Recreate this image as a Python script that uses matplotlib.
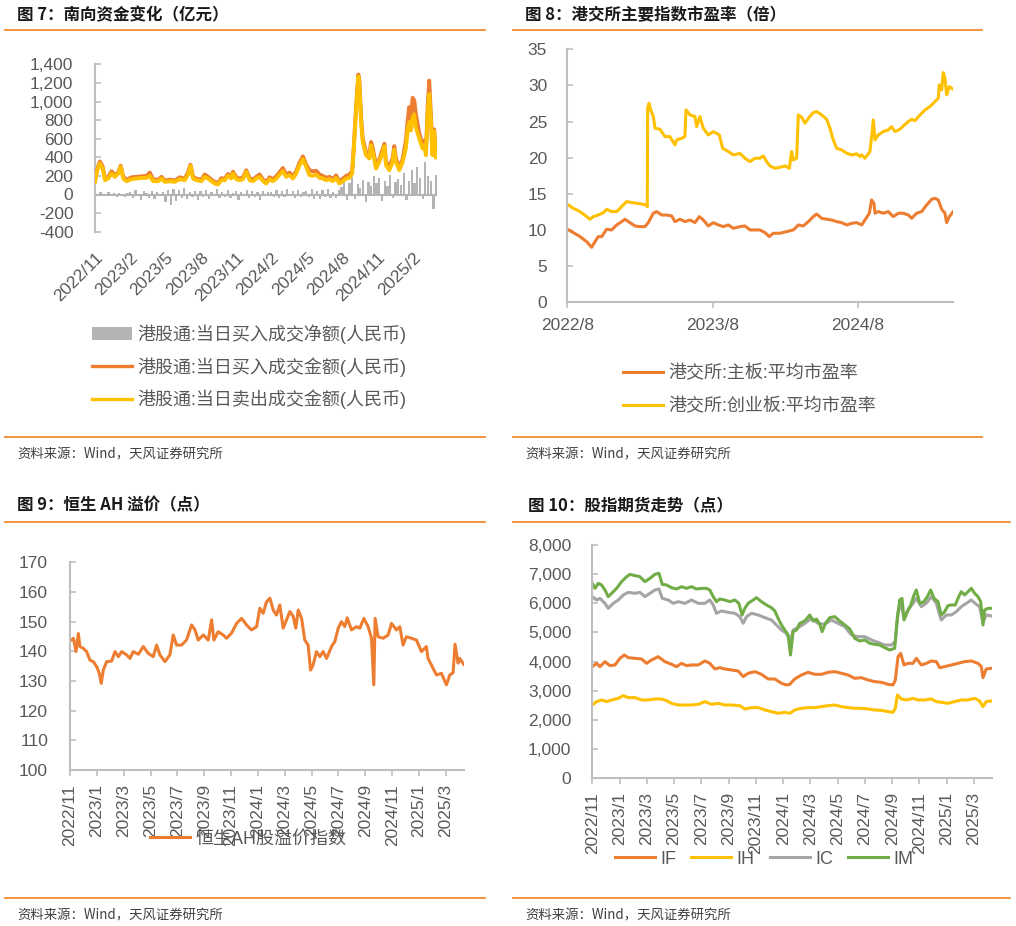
import numpy as np
import matplotlib
matplotlib.use('Agg')
import matplotlib.pyplot as plt
from matplotlib.lines import Line2D
from matplotlib.ticker import FuncFormatter

plt.rcParams['font.family'] = ['Liberation Sans', 'Noto Sans CJK SC', 'DejaVu Sans']

# ---------------- Panel 1 data: 南向资金 (months since 2022/11) ----------------
p1_months = [0.00,0.20,0.42,0.65,0.85,1.13,1.41,1.69,1.98,2.18,
             2.40,2.68,3.11,3.53,3.95,4.38,4.66,4.94,5.37,5.65,
             5.93,6.36,6.78,7.20,7.63,7.91,8.11,8.33,8.62,9.04,
             9.32,9.60,9.89,10.17,10.45,10.73,11.02,11.30,11.58,11.72,
             12.01,12.29,12.57,12.85,13.14,13.42,13.70,13.98,14.27,14.55,
             14.83,15.11,15.40,15.68,15.96,16.24,16.53,16.81,17.09,17.37,
             17.66,17.94,18.22,18.50,18.79,19.07,19.35,19.63,19.92,20.20,
             20.48,20.76,21.05,21.33,21.61,21.84,21.95,22.12,22.26,22.37,
             22.46,22.60,22.74,23.02,23.31,23.45,23.59,23.87,24.15,24.44,
             24.58,24.72,25.00,25.28,25.42,25.56,25.85,26.13,26.41,26.55,
             26.69,26.84,26.98,27.12,27.26,27.54,27.82,27.97,28.11,28.25,
             28.39,28.53,28.67,28.81,28.95]
sell_amt = [136,262,333,280,154,172,226,190,226,297,
            172,143,165,172,179,179,201,143,143,172,
            136,143,136,165,154,215,308,172,154,143,
            190,172,143,118,108,154,154,201,172,226,
            165,154,165,244,154,143,172,190,143,118,
            165,143,172,215,251,190,208,172,226,315,
            380,297,208,201,215,179,172,154,165,143,
            179,118,143,172,179,226,423,781,1068,1270,
            1175,781,566,423,387,530,459,280,351,459,
            520,315,262,351,480,351,262,351,500,680,
            780,690,830,860,720,602,495,530,423,853,
            1080,781,423,680,400]
buy_amt = [150,280,355,300,170,190,250,205,240,310,
           190,160,185,190,195,200,236,160,160,190,
           150,160,150,185,170,240,320,190,170,160,
           215,190,160,135,125,175,170,220,190,245,
           185,170,185,260,175,160,190,215,160,135,
           185,165,195,240,285,215,235,195,250,340,
           410,320,260,250,255,215,200,180,190,165,
           205,140,170,200,215,250,450,820,1100,1290,
           1220,830,600,460,420,565,500,310,380,490,
           545,350,300,390,520,390,290,380,580,780,
           940,820,1040,1010,860,660,540,580,460,920,
           1225,860,460,700,420]
net_amt = [20,-15,30,-20,10,25,-10,15,-25,20,10,-30,15,
           30,-40,45,-20,-60,35,20,-35,40,-50,25,-20,30,
           -80,50,-110,60,-70,45,-40,70,-50,30,-30,40,-60,
           35,-30,50,-45,25,-20,60,-35,30,-25,45,-40,20,
           40,-55,30,-20,50,-40,35,-30,25,-60,40,-20,30,
           30,-25,45,-35,40,-30,55,-20,35,-40,50,-25,30,
           40,-30,60,-45,35,-50,45,-30,55,-40,30,-35,50,
           80,150,-60,120,190,-50,110,70,160,-80,130,90,200,
           120,180,-70,150,90,210,-40,130,170,100,230,-60,140,
           260,120,300,180,-50,350,200,150,-160,210]
net_step = 0.23
p1_ticks = [0, 3, 6, 9, 12, 15, 18, 21, 24, 27]
p1_labels = ['2022/11','2023/2','2023/5','2023/8','2023/11','2024/2','2024/5','2024/8','2024/11','2025/2']
p1_legend = ['港股通:当日买入成交净额(人民币)', '港股通:当日买入成交金额(人民币)', '港股通:当日卖出成交金额(人民币)']

# ---------------- Panel 2 data: 市盈率 (months since 2022/8) ----------------
gem_months = [0,0.50,1.05,1.60,1.87,2.15,2.56,2.98,3.25,3.66,
              4.08,4.49,4.90,5.32,5.73,6.14,6.50,6.61,6.64,6.75,
              6.89,7.11,7.25,7.66,8.07,8.48,8.90,9.04,9.45,9.72,
              9.81,10.14,10.55,10.69,10.96,11.24,11.65,12.07,12.56,12.84,
              13.31,13.72,14.27,14.68,15.10,15.51,15.92,16.20,16.47,16.75,
              17.16,17.58,17.99,18.35,18.54,18.68,18.95,19.09,19.37,19.64,
              19.92,20.33,20.61,21.02,21.43,21.71,21.98,22.26,22.67,23.09,
              23.50,23.91,24.19,24.33,24.60,25.01,25.15,25.29,25.43,25.70,
              26.12,26.53,26.80,27.08,27.49,27.77,28.18,28.46,28.73,29.15,
              29.56,29.97,30.39,30.66,30.74,30.94,31.07,31.21,31.35,31.57,
              31.90]
gem_pe = [13.56,13.0,12.55,11.85,11.49,11.85,12.08,12.4,12.87,12.55,
          12.55,13.24,13.93,13.79,13.7,13.6,13.47,13.24,26.85,27.54,
          26.61,25.69,24.08,23.94,22.92,22.92,21.77,22.46,22.69,22.92,
          26.61,25.92,25.69,24.31,25.69,24.08,23.15,23.62,23.15,21.31,
          20.85,20.39,20.6,19.93,19.46,19.93,19.93,20.25,19.46,18.87,
          18.54,18.68,18.87,18.54,20.85,19.7,19.93,25.92,25.6,24.77,
          25.46,26.25,26.38,25.92,25.32,24.08,22.46,21.31,21.08,20.62,
          20.39,20.53,20.16,20.39,19.93,20.85,22.92,25.23,22.46,23.15,
          23.62,23.85,24.31,23.62,23.94,24.4,25.0,25.32,25.12,25.92,
          26.61,27.08,27.77,28.23,30.07,29.38,31.78,31.0,28.69,29.84,
          29.47]
main_months = [0,0.50,1.05,1.60,2.01,2.29,2.56,2.84,3.25,3.66,
               4.08,4.49,4.77,5.18,5.59,6.01,6.42,6.69,7.11,7.38,
               7.80,8.21,8.62,8.90,9.31,9.72,10.14,10.55,10.91,11.24,
               11.65,12.07,12.48,12.89,13.31,13.72,14.27,14.68,15.10,15.51,
               15.92,16.34,16.69,17.02,17.58,18.13,18.68,19.09,19.50,19.92,
               20.33,20.61,21.02,21.43,21.85,22.26,22.67,23.09,23.50,23.91,
               24.33,24.60,24.96,25.15,25.34,25.43,25.70,26.12,26.53,26.94,
               27.36,27.77,28.18,28.46,28.87,29.28,29.70,30.11,30.39,30.66,
               30.94,31.21,31.35,31.57,31.90]
main_pe = [10.1,9.64,9.09,8.39,7.61,8.39,9.09,9.09,10.1,10.01,
           10.7,11.16,11.49,11.02,10.56,10.47,10.47,11.02,12.32,12.55,
           12.08,12.08,11.95,11.16,11.49,11.16,11.39,11.02,11.85,11.39,
           10.56,11.02,10.7,10.47,10.7,10.24,10.47,10.56,10.01,10.01,
           10.01,9.64,9.09,9.55,9.55,9.78,10.01,10.7,10.56,11.16,
           11.85,12.22,11.62,11.49,11.39,11.16,11.02,10.7,10.93,11.02,
           10.7,11.39,12.32,14.16,13.7,12.32,12.55,12.32,12.55,11.85,
           12.32,12.32,12.08,11.62,12.32,12.55,13.47,14.25,14.39,14.16,
           12.87,12.32,11.02,11.85,12.55]
p2_ticks = [0, 12, 24]
p2_labels = ['2022/8', '2023/8', '2024/8']
p2_legend = ['港交所:主板:平均市盈率', '港交所:创业板:平均市盈率']

# ---------------- Panel 3 data: 恒生AH溢价 (months since 2022/11) ----------------
ah_months = [0,0.25,0.45,0.62,0.74,0.99,1.24,1.49,1.74,1.99,
             2.18,2.33,2.48,2.73,3.10,3.35,3.60,3.85,4.22,4.47,
             4.71,5.09,5.46,5.83,6.20,6.45,6.70,7.07,7.44,7.69,
             7.94,8.31,8.68,9.06,9.31,9.55,9.93,10.30,10.55,10.72,
             11.04,11.41,11.66,12.03,12.41,12.78,13.15,13.52,13.90,14.14,
             14.39,14.64,14.89,15.14,15.38,15.63,15.88,16.13,16.38,16.63,
             16.82,17.00,17.25,17.49,17.74,17.92,18.11,18.36,18.61,18.86,
             19.11,19.48,19.73,19.98,20.22,20.47,20.65,20.97,21.34,21.59,
             21.89,22.21,22.46,22.63,22.73,22.95,23.33,23.70,23.95,24.32,
             24.57,24.81,25.06,25.43,25.81,26.18,26.55,26.67,26.92,27.30,
             27.67,28.04,28.29,28.54,28.68,28.91,29.03,29.33]
ah_premium = [143.5,144.4,139.9,146,141.6,141,139.9,137,136.5,134.8,
              132.6,129.2,133.7,136.5,136.7,139.9,138.2,139.9,138.8,137.6,
              139.9,139,141.6,139.3,138.2,142.1,138.8,136.5,138.8,145.5,
              142.1,142.1,143.8,148.9,147.2,143.8,145.5,143.8,150.6,143.8,
              146.6,145.5,144.4,146.1,149.4,151.1,148.9,147.2,148.3,154.5,
              152.8,156.7,157.9,153.9,152.2,155.6,147.8,150.6,153.4,151.7,
              147.8,153.9,151.1,143.8,142.1,133.7,135.4,139.9,138.2,139.9,
              137.6,141.6,143.3,147.8,150,148.3,151.3,147.2,148.3,147.8,
              151.1,148.3,144.4,128.7,151.1,144.9,144.4,145.5,149.4,147.2,
              148.3,142.1,144.9,144.4,143.8,139.9,141.6,137.6,135.4,132,
              132.6,128.7,132,132.8,142.4,136,137.6,135.6]
p34_ticks = list(range(0, 29, 2))
p34_labels = ['2022/11','2023/1','2023/3','2023/5','2023/7','2023/9','2023/11',
              '2024/1','2024/3','2024/5','2024/7','2024/9','2024/11','2025/1','2025/3']
p3_legend = ['恒生AH股溢价指数']

# ---------------- Panel 4 data: 股指期货 (months since 2022/11) ----------------
if_months = [0,0.32,0.56,0.93,1.29,1.66,2.03,2.35,2.64,3.13,
             3.62,3.98,4.35,4.84,5.33,5.81,6.18,6.55,6.91,7.28,
             7.77,8.26,8.62,8.99,9.36,9.72,10.21,10.70,11.07,11.43,
             11.92,12.41,12.90,13.39,13.88,14.24,14.49,14.85,15.34,15.83,
             16.32,16.81,17.30,17.79,18.28,18.76,19.25,19.74,20.23,20.72,
             21.21,21.70,22.06,22.23,22.43,22.62,22.87,23.16,23.53,23.77,
             24.14,24.50,24.87,25.24,25.48,25.85,26.34,26.83,27.31,27.80,
             28.29,28.54,28.66,28.90,29.27]
if_pts = [3829,3943,3829,4000,3863,3886,4114,4229,4137,4114,
          4091,3943,4057,4171,4000,3909,3829,3943,3863,3886,
          3886,4023,3943,3749,3794,3749,3714,3680,3486,3600,
          3657,3566,3406,3406,3257,3200,3223,3406,3543,3634,
          3566,3566,3634,3657,3600,3543,3429,3451,3371,3314,
          3291,3223,3200,3371,4171,4286,3886,3943,3943,4114,
          3886,3943,4023,4000,3794,3829,3886,3943,4000,4023,
          3943,3829,3451,3749,3771]
ih_months = [0,0.32,0.68,1.05,1.42,1.91,2.27,2.64,3.13,3.62,
             4.10,4.59,4.96,5.33,5.81,6.30,6.79,7.28,7.77,8.26,
             8.75,9.24,9.72,10.21,10.82,11.19,11.68,12.17,12.66,13.14,
             13.63,14.12,14.49,14.85,15.34,15.83,16.32,16.81,17.30,17.79,
             18.28,18.76,19.25,19.74,20.23,20.72,21.21,21.70,22.06,22.23,
             22.38,22.67,23.04,23.53,23.89,24.38,24.87,25.24,25.60,26.09,
             26.58,27.07,27.56,28.05,28.41,28.66,28.90,29.27]
ih_pts = [2514,2629,2686,2629,2686,2743,2834,2766,2766,2686,
          2686,2720,2720,2686,2571,2514,2514,2514,2537,2629,
          2537,2571,2514,2514,2491,2377,2423,2423,2343,2286,
          2229,2263,2229,2343,2400,2423,2423,2457,2491,2514,
          2457,2423,2400,2400,2377,2343,2331,2286,2263,2400,
          2857,2720,2686,2743,2686,2686,2720,2629,2606,2571,
          2629,2686,2686,2743,2651,2457,2629,2651]
ic_months = [0,0.32,0.56,0.93,1.17,1.54,1.91,2.27,2.64,3.13,
             3.49,3.86,4.23,4.59,4.89,5.13,5.57,5.94,6.30,6.79,
             7.28,7.77,8.26,8.62,8.87,9.11,9.48,9.97,10.46,10.82,
             11.07,11.31,11.68,12.17,12.66,13.14,13.51,13.88,14.24,14.54,
             14.73,15.10,15.59,16.08,16.56,17.05,17.54,18.03,18.52,19.01,
             19.50,19.99,20.47,20.96,21.45,21.94,22.23,22.43,22.67,22.87,
             23.16,23.53,23.77,24.14,24.50,24.87,25.24,25.60,25.97,26.34,
             26.70,27.07,27.44,27.80,28.17,28.41,28.66,28.90,29.27]
ic_pts = [6229,6114,6171,6000,5829,6000,6114,6286,6377,6343,
          6377,6229,6343,6457,6491,6171,6114,6000,6057,6000,
          6114,6000,6000,6114,5943,5657,5737,5691,5657,5543,
          5314,5543,5657,5600,5509,5429,5257,5086,4971,4686,
          5086,5166,5314,5486,5314,5280,5429,5314,5200,4914,
          4857,4857,4743,4663,4571,4571,4686,5714,5943,5486,
          5771,6000,6171,5886,6000,6229,6000,5429,5600,5600,
          5714,5886,6000,6114,5966,5886,5349,5600,5566]
im_months = [0,0.20,0.44,0.68,0.93,1.17,1.42,1.78,2.15,2.52,
             2.76,3.13,3.49,3.86,4.23,4.59,4.89,5.13,5.45,5.81,
             6.18,6.55,6.91,7.28,7.65,8.01,8.38,8.62,8.87,9.11,
             9.36,9.72,10.09,10.46,10.75,10.99,11.19,11.43,11.80,12.04,
             12.41,12.78,13.14,13.39,13.63,13.88,14.12,14.37,14.54,14.73,
             14.98,15.22,15.59,15.95,16.20,16.44,16.69,16.86,17.10,17.42,
             17.79,18.15,18.52,18.89,19.25,19.62,19.99,20.35,20.72,21.08,
             21.45,21.82,22.18,22.35,22.55,22.72,22.87,23.11,23.36,23.60,
             23.77,24.02,24.33,24.58,24.82,25.07,25.36,25.60,25.85,26.09,
             26.34,26.63,26.88,27.07,27.31,27.56,27.80,28.05,28.29,28.49,
             28.66,28.78,29.03,29.27]
im_pts = [6686,6514,6686,6629,6457,6229,6343,6514,6743,6914,
          6994,6949,6914,6743,6857,6994,7029,6651,6629,6537,
          6491,6571,6514,6571,6491,6514,6514,6457,6229,6057,
          6149,6114,6057,6114,6000,5600,5829,6000,6114,6194,
          6057,5943,5851,5737,5486,5257,5086,4914,4229,5029,
          5086,5314,5394,5600,5394,5463,5280,5029,5314,5509,
          5543,5394,5257,5120,4800,4709,4743,4629,4594,4571,
          4480,4400,4457,5371,6114,6171,5429,5714,5943,6286,
          6457,6000,6057,6229,6457,6171,6057,5600,5714,5920,
          5943,5943,6229,6400,6286,6400,6514,6343,6229,6057,
          5257,5771,5829,5829]
p4_legend = ['IF', 'IH', 'IC', 'IM']

# ---------------- styling ----------------
W, H = 1016, 926
ORANGE = '#ED7D31'; GOLD = '#FFC000'; GRAYL = '#A5A5A5'; GREEN = '#70AD47'
BARC = '#B4B4B4'; SEP = '#F08C30'; TXT = '#595959'; SPINE = '#BFBFBF'
CJK = ['Noto Sans CJK SC', 'DejaVu Sans']

fig = plt.figure(figsize=(W / 100, H / 100), dpi=100)


def fx(x):
    return x / W


def fy(y):
    return 1 - y / H


def add_ax(l, t, r, b):
    return fig.add_axes([fx(l), fy(b), (r - l) / W, (b - t) / H])


def hline(x0, x1, y):
    fig.add_artist(Line2D([fx(x0), fx(x1)], [fy(y), fy(y)], color=SEP, lw=1.3,
                          transform=fig.transFigure))


def base_style(ax, ypad, xpad=6):
    for s in ('top', 'right'):
        ax.spines[s].set_visible(False)
    for s in ('left', 'bottom'):
        ax.spines[s].set_color(SPINE)
        ax.spines[s].set_linewidth(1.5)
    ax.tick_params(axis='y', direction='in', length=4, width=1.2, colors=SPINE,
                   labelcolor=TXT, labelsize=12.5, pad=ypad)
    ax.tick_params(axis='x', direction='out', length=4, width=1.2, colors=SPINE,
                   labelcolor=TXT, labelsize=12.5, pad=xpad)


def legend(ax, handles, labels, x, y, loc, ncol=1, colsp=0.85, lsp=0.55):
    lg = ax.legend(handles, labels, loc=loc, bbox_to_anchor=(fx(x), fy(y)),
                   bbox_transform=fig.transFigure, frameon=False, fontsize=13,
                   handlelength=2.2, handletextpad=0.3, labelspacing=lsp,
                   borderpad=0, borderaxespad=0, ncol=ncol, columnspacing=colsp)
    for t in lg.get_texts():
        t.set_color(TXT)
    return lg


comma = FuncFormatter(lambda v, p: f'{int(v):,}')

# titles and separators
titles = [(17, 15, '图 7：南向资金变化（亿元）'), (525, 15, '图 8：港交所主要指数市盈率（倍）'),
          (17, 505, '图 9：恒生 AH 溢价（点）'), (528, 505, '图 10：股指期货走势（点）')]
for x, y, t in titles:
    fig.text(fx(x), fy(y), t, fontsize=11.9, fontweight='bold', family=CJK,
             va='center', ha='left', color='#1a1a1a')
hline(5, 485, 30); hline(513, 982, 30); hline(5, 485, 521.5); hline(513, 1010, 521.5)
hline(5, 485, 437); hline(513, 982, 437); hline(5, 485, 898); hline(513, 1010, 898)
for x, y in [(17, 454), (525, 454), (17, 915), (525, 915)]:
    fig.text(fx(x), fy(y), '资料来源：Wind，天风证券研究所', fontsize=9.6, family=CJK,
             va='center', ha='left', color='#404040')

# ---- Panel 1 ----
ax1 = add_ax(95, 64.3, 437, 231.7)
base_style(ax1, 15.5)
net_x = np.arange(len(net_amt)) * net_step
bars = ax1.bar(net_x, net_amt, width=0.19, color=BARC, zorder=2)
ax1.axhline(0, color=BARC, lw=1.5, zorder=2)
l_buy, = ax1.plot(p1_months, buy_amt, color=ORANGE, lw=2.8, zorder=3)
l_sell, = ax1.plot(p1_months, sell_amt, color=GOLD, lw=2.8, zorder=4)
ax1.set_ylim(-400, 1400)
ax1.set_yticks(range(-400, 1401, 200))
ax1.yaxis.set_major_formatter(comma)
ax1.set_xlim(0, 29.05)
ax1.spines['bottom'].set_visible(False)
ax1.set_xticks(p1_ticks)
ax1.set_xticklabels(p1_labels, rotation=45, ha='right', va='top', rotation_mode='anchor')
ax1.tick_params(axis='x', length=0, pad=13)
lg1 = legend(ax1, [bars, l_buy, l_sell], p1_legend, 92, 324, 'upper left', lsp=0.74)
for h in lg1.legend_handles[1:]:
    h.set_linewidth(2.4)

# ---- Panel 2 ----
ax2 = add_ax(567.3, 49.3, 953.3, 302.3)
base_style(ax2, 14.5, 7)
l_main, = ax2.plot(main_months, main_pe, color=ORANGE, lw=2.2)
l_gem, = ax2.plot(gem_months, gem_pe, color=GOLD, lw=2.2)
ax2.set_ylim(0, 35)
ax2.set_yticks(range(0, 36, 5))
ax2.set_xlim(0, 31.9)
ax2.set_xticks(p2_ticks)
ax2.set_xticklabels(p2_labels)
legend(ax2, [l_main, l_gem], p2_legend, 623, 365, 'upper left', lsp=0.86)

# ---- Panel 3 ----
ax3 = add_ax(70, 562.3, 464, 770)
base_style(ax3, 15.8, 6)
l_ah, = ax3.plot(ah_months, ah_premium, color=ORANGE, lw=2.2)
ax3.set_ylim(100, 170)
ax3.set_yticks(range(100, 171, 10))
ax3.set_xlim(0, 29.35)
ax3.set_xticks(p34_ticks)
ax3.set_xticklabels(p34_labels, rotation=90)
legend(ax3, [l_ah], p3_legend, 150, 839, 'center left')

# ---- Panel 4 ----
ax4 = add_ax(592.3, 545, 991.7, 778.3)
base_style(ax4, 15, 6)
l_if, = ax4.plot(if_months, if_pts, color=ORANGE, lw=2.2)
l_ih, = ax4.plot(ih_months, ih_pts, color=GOLD, lw=2.2)
l_ic, = ax4.plot(ic_months, ic_pts, color=GRAYL, lw=2.2)
l_im, = ax4.plot(im_months, im_pts, color=GREEN, lw=2.2)
ax4.set_ylim(0, 8000)
ax4.set_yticks(range(0, 8001, 1000))
ax4.yaxis.set_major_formatter(comma)
ax4.set_xlim(0, 29.3)
ax4.set_xticks(p34_ticks)
ax4.set_xticklabels(p34_labels, rotation=90)
legend(ax4, [l_if, l_ih, l_ic, l_im], p4_legend, 615, 859, 'center left', ncol=4)

fig.savefig('out.png', dpi=100)
